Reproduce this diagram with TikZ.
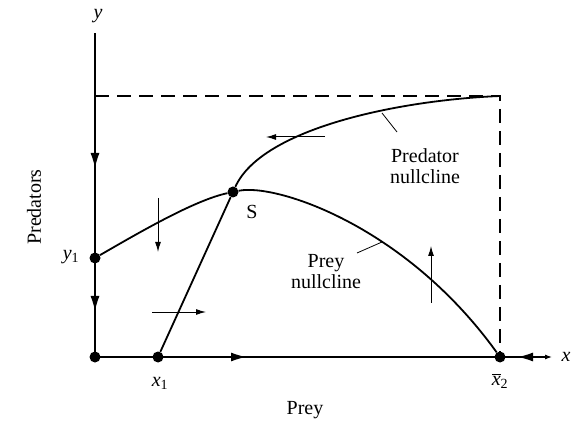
\documentclass[tikz,border=0pt]{standalone}
\usepackage{fontspec}
\setmainfont{Liberation Serif}
\usetikzlibrary{arrows.meta}
\begin{document}
\begin{tikzpicture}[x=1pt,y=-1pt,
  font=\fontsize{20}{24}\selectfont,
  axisline/.style={line width=1.1pt},
  curveline/.style={line width=1.8pt},
  dashbox/.style={line width=1.1pt, dash pattern=on 14pt off 8pt},
  flow/.style={line width=1pt, -{Latex[length=10pt,width=6pt]}},
  bighead/.style={line width=1.1pt, -{Latex[length=15pt,width=9pt]}},
  leader/.style={line width=0.8pt},
  dot/.style={circle, fill=black, inner sep=0pt, minimum size=11pt},
  lbl/.style={inner sep=1pt}]
\useasboundingbox (0,0) rectangle (583,427);
% points
\node[dot] (O) at (95,357) {};
\node[dot] (x1) at (158,357) {};
\node[dot] (y1) at (95,258) {};
\node[dot] (S) at (233,192) {};
\node[dot] (x2) at (500,357) {};
\coordinate (ytop) at (95,33);
\coordinate (xend) at (552,357);
\coordinate (TR) at (500,96);
\coordinate (TL) at (95,96);
% axes
\draw[axisline] (O.center) -- (ytop);
\draw[axisline, -{Latex[length=7pt,width=5pt]}] (O.center) -- (xend);
% dashed box
\draw[dashbox] (TL) -- (TR) -- (x2);
% arrows on axes
\coordinate (ya1) at (95,150); \coordinate (yb1) at (95,168);
\coordinate (ya2) at (95,293); \coordinate (yb2) at (95,311);
\coordinate (xa1) at (228,357); \coordinate (xb1) at (246,357);
\coordinate (xa2) at (540,357); \coordinate (xb2) at (518,357);
\draw[bighead] (ya1) -- (yb1);
\draw[bighead] (ya2) -- (yb2);
\draw[bighead] (xa1) -- (xb1);
\draw[bighead] (xa2) -- (xb2);
% nullclines
\draw[curveline] (x1) -- (S) .. controls (262,128) and (400,100) .. (TR);
\draw[curveline] (y1) .. controls (140,232) and (195,200) .. (S)
   .. controls (275,183) and (405,225) .. (x2);
% flow arrows
\coordinate (f1a) at (158,198); \coordinate (f1b) at (158,252);
\coordinate (f2a) at (152,312); \coordinate (f2b) at (206,312);
\coordinate (f3a) at (325,137); \coordinate (f3b) at (266,137);
\coordinate (f4a) at (431,303); \coordinate (f4b) at (431,246);
\draw[flow] (f1a) -- (f1b);
\draw[flow] (f2a) -- (f2b);
\draw[flow] (f3a) -- (f3b);
\draw[flow] (f4a) -- (f4b);
% leaders
\coordinate (l1a) at (382,113); \coordinate (l1b) at (397,132);
\coordinate (l2a) at (382,242); \coordinate (l2b) at (357,253);
\draw[leader] (l1a) -- (l1b);
\draw[leader] (l2a) -- (l2b);
% labels
\node[lbl] (ly) at (98,16) {\textit{y}};
\node[lbl] (lx) at (566,357) {\textit{x}};
\node[lbl, rotate=90] (lpred) at (34,207) {Predators};
\node[lbl] (lprey) at (305,410) {Prey};
\node[lbl] (ly1) at (71,257) {\textit{y}\textsubscript{1}};
\node[lbl] (lx1) at (160,383) {\textit{x}\textsubscript{1}};
\node[lbl] (lx2) at (500,381) {$\overline{\mbox{\textit{x}}}$\textsubscript{2}};
\node[lbl] (lS) at (252,212) {S};
\node[lbl, align=center] (lpn) at (425,166) {Predator\\[-3pt]nullcline};
\node[lbl, align=center] (lyn) at (326,272) {Prey\\[-3pt]nullcline};
\end{tikzpicture}
\end{document}
